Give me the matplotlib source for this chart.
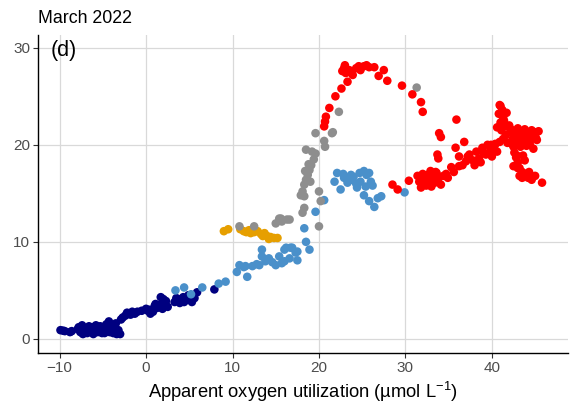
import matplotlib
matplotlib.use("Agg")
import matplotlib.pyplot as plt

plt.rcParams['font.family'] = ['Liberation Sans', 'DejaVu Sans']
plt.rcParams['mathtext.fontset'] = 'custom'
plt.rcParams['mathtext.rm'] = 'Liberation Sans'
plt.rcParams['mathtext.it'] = 'Liberation Sans:italic'

title_text = "March 2022"
panel_label = "(d)"
x_label = "Apparent oxygen utilization (\u00b5mol L$^{-1}$)"
x_ticks = [-10, 0, 10, 20, 30, 40]
y_ticks = [0, 10, 20, 30]

navy_x = [-9.9, -9.4, -8.8, -7.8, -7.6, -7.4, -7.2, -7.0, -6.8, -6.6, -6.4, -6.2, -6.0, -5.8, -5.6,
          -5.4, -5.2, -5.0, -4.8, -4.6, -4.4, -4.2, -4.0, -3.8, -3.6, -3.4, -3.2, -3.0, -7.3, -6.1,
          -5.1, -4.3, -3.5, -2.9, -2.4, -2.0, -1.6, -1.0, -0.5, 0.0, 0.4, 0.8, 1.0, 1.3, 1.6, 1.9,
          2.2, 2.5, 1.7, 2.0, 2.3, 3.3, 3.7, 4.0, 4.3, 4.6, 4.9, 5.3, 5.6, 5.9, 7.9, 0.5, -1.8,
          -7.9, -6.9, -6.3, -5.7, -5.3, -4.9, -4.1, -3.7, -2.7, -2.2, -1.3, 0.2, 1.1, 1.5, 2.1,
          3.5, 3.9, 4.4, 5.0, -9.6, -8.6]
navy_y = [0.9, 0.8, 0.7, 1.2, 0.7, 1.4, 0.9, 1.1, 0.6, 1.3, 0.8, 1.2, 0.9, 1.4, 0.7,
          1.1, 0.8, 1.2, 0.6, 1.5, 0.9, 0.7, 1.3, 0.6, 1.0, 0.5, 0.9, 0.5, 0.5, 0.5,
          0.6, 1.8, 1.6, 2.0, 2.4, 2.6, 2.8, 2.8, 2.9, 3.1, 3.0, 2.8, 3.4, 3.2, 3.5, 3.1,
          3.7, 3.3, 4.3, 4.1, 3.9, 3.8, 4.1, 3.9, 4.3, 4.0, 4.5, 3.8, 4.2, 4.8, 5.1, 2.6, 2.5,
          1.0, 1.0, 1.0, 1.1, 1.3, 1.0, 1.1, 1.2, 2.2, 2.7, 2.6, 2.9, 3.6, 3.3, 3.6,
          4.2, 3.7, 3.8, 4.4, 0.85, 0.8]

blue_x = [3.4, 4.4, 6.5, 8.4, 9.2, 10.5, 10.8, 11.3, 11.5, 11.7, 12.3, 13.1, 13.4, 13.4, 14.2,
          15.0, 15.4, 16.0, 16.0, 16.6, 16.7, 17.3, 17.5, 16.2, 16.9, 17.5, 18.5, 18.9, 18.3,
          19.6, 20.6, 21.8, 22.1, 22.5, 22.9, 23.7, 23.8, 24.7, 25.2, 25.8, 24.8, 24.4, 25.4,
          26.0, 25.2, 25.8, 26.4, 26.8, 24.3, 23.3, 27.2, 29.9, 12.8, 14.6, 5.2, 13.8, 15.7,
          22.8, 24.0, 25.5, 26.2]
blue_y = [5.0, 5.3, 5.3, 5.7, 5.9, 6.9, 7.6, 7.4, 7.5, 6.4, 7.5, 7.6, 8.5, 9.2, 8.3,
          7.6, 8.5, 9.2, 8.0, 8.3, 9.4, 8.9, 8.1, 9.4, 9.4, 9.0, 10.0, 9.2, 11.4,
          13.1, 14.3, 16.2, 17.1, 15.4, 16.6, 16.9, 16.4, 17.1, 17.3, 17.1, 16.2, 15.6, 15.7,
          16.2, 14.8, 14.2, 13.6, 14.5, 16.0, 16.1, 14.7, 15.1, 7.7, 7.9, 4.6, 8.0, 7.8,
          17.0, 16.7, 16.9, 15.8]

orange_x = [9.0, 9.5, 10.9, 11.3, 11.9, 12.5, 12.9, 13.3, 13.7, 14.0, 14.4, 14.8, 15.2, 14.2,
            13.5, 12.1, 11.6]
orange_y = [11.1, 11.3, 11.3, 11.1, 11.2, 11.0, 11.1, 10.8, 10.9, 10.6, 10.5, 10.4, 10.4, 10.3,
            10.6, 10.9, 11.0]

gray_x = [10.8, 12.5, 15.0, 15.4, 16.3, 15.6, 15.7, 16.6, 18.1, 18.3, 20.0, 17.9, 18.3, 18.1,
          20.0, 20.2, 18.3, 18.5, 18.7, 18.9, 19.1, 19.4, 19.6, 19.2, 18.5, 20.7, 20.6, 19.6,
          21.5, 21.6, 22.3, 31.3, 18.8, 19.0, 18.4]
gray_y = [11.6, 11.6, 11.9, 12.4, 12.3, 12.4, 12.1, 12.3, 13.0, 13.5, 11.6, 14.8, 14.7, 15.2,
          15.2, 14.2, 15.9, 16.4, 16.9, 17.4, 17.9, 18.5, 19.1, 19.3, 19.5, 19.8, 20.4, 21.2,
          21.2, 21.3, 23.4, 25.9, 18.0, 16.2, 17.3]

red_x = [20.6, 20.7, 20.8, 21.2, 21.9, 22.6, 23.3, 22.9, 23.1, 23.5, 23.9, 24.3, 24.8, 25.2,
         25.8, 26.4, 26.9, 27.5, 27.9, 29.6, 30.8, 31.8, 32.0, 23.0,
         28.5, 29.1, 30.4, 31.4, 31.6, 31.8, 32.0, 32.2, 32.4, 32.6, 32.8, 33.0, 33.2, 33.4,
         33.6, 33.8, 34.1, 34.4, 34.9, 35.6, 36.2, 37.0, 36.2, 37.4, 38.2, 38.9, 38.5, 39.3,
         39.5, 37.8, 38.0, 38.7, 39.8, 40.0, 40.3, 40.6, 40.9, 33.9, 34.1, 35.8, 36.8, 33.7,
         33.8, 35.9,
         40.9, 41.2, 40.8, 41.3, 41.0, 41.5, 41.1, 41.6, 41.3, 41.8, 42.0, 41.7,
         42.2, 42.6, 43.0, 43.4, 43.8, 44.2, 44.6, 45.0, 45.4, 42.4, 42.8, 43.2, 43.6, 44.0,
         44.4, 44.8, 45.2, 43.3, 44.0, 44.8, 42.5,
         42.6, 42.8, 43.0, 42.5, 43.2, 43.5, 43.9, 43.2, 44.2, 44.6, 45.0, 43.8, 43.6, 45.8,
         24.6, 25.5, 22.7, 32.9, 33.5, 34.7, 35.3, 36.6, 37.2, 39.0, 39.9, 40.4, 41.4, 42.1,
         42.3, 43.7, 44.4, 45.1, 42.9, 43.5, 41.0, 40.6, 44.3, 43.0]
red_y = [21.9, 22.4, 22.9, 23.8, 25.0, 25.8, 26.5, 27.9, 27.4, 27.7, 27.2, 27.9, 27.7, 28.1,
         28.0, 28.0, 27.1, 27.7, 26.6, 26.1, 25.2, 24.4, 23.4, 28.2,
         15.9, 15.4, 16.3, 16.8, 16.2, 15.6, 17.0, 16.4, 15.8, 16.9, 16.3, 15.7, 16.6, 16.1,
         17.1, 16.5, 15.9, 16.8, 16.6, 17.2, 17.8, 18.3, 18.8, 19.0, 19.3, 19.7, 18.6, 19.0,
         20.0, 18.4, 17.9, 18.2, 19.4, 18.8, 19.9, 19.3, 20.3, 21.2, 20.8, 19.7, 20.3, 19.0,
         18.6, 22.6,
         24.1, 23.6, 23.2, 22.8, 22.3, 21.9, 21.5, 21.0, 20.6, 20.2, 22.0, 23.3,
         21.6, 21.2, 21.7, 21.3, 21.6, 21.2, 21.5, 21.3, 21.4, 20.6, 20.2, 20.7, 20.3, 20.8,
         20.4, 20.9, 20.5, 19.8, 19.9, 19.6, 19.8,
         19.2, 18.7, 18.2, 17.8, 17.6, 17.2, 17.0, 16.8, 16.6, 16.4, 16.8, 18.4, 18.9, 16.1,
         28.1, 28.2, 27.6, 17.3, 17.2, 17.0, 17.7, 17.9, 18.8, 19.2, 20.0, 20.1, 22.5, 21.3,
         20.1, 20.0, 20.0, 20.7, 18.9, 16.6, 24.0, 21.8, 17.2, 17.6]

series = [
    (navy_x, navy_y, '#000080'),
    (blue_x, blue_y, '#4A90CA'),
    (orange_x, orange_y, '#E69F00'),
    (gray_x, gray_y, '#8E8E8E'),
    (red_x, red_y, '#FF0000'),
]

fig = plt.figure(figsize=(5.74, 4.09), dpi=100)
ax = fig.add_axes([0.0662, 0.137, 0.9233, 0.777])

for xs, ys, c in series:
    ax.scatter(xs, ys, s=38, color=c, edgecolors='none', zorder=3)

ax.set_xlim(-12.5, 48.8)
ax.set_ylim(-1.45, 31.3)
ax.set_xticks(x_ticks)
ax.set_yticks(y_ticks)
ax.grid(True, color='#D9D9D9', linewidth=0.9, zorder=0)
ax.set_axisbelow(True)
for side in ['top', 'right']:
    ax.spines[side].set_visible(False)
for side in ['left', 'bottom']:
    ax.spines[side].set_color('black')
    ax.spines[side].set_linewidth(1.0)
ax.tick_params(axis='both', colors='#333333', labelcolor='#4D4D4D', length=3.5,
               width=0.8, labelsize=11, pad=2)
ax.set_xlabel(x_label, fontsize=13.2, color='black', labelpad=4)
ax.text(-11.0, 29.7, panel_label, fontsize=15.5, ha='left', va='center', color='black')
ax.set_title(title_text, loc='left', fontsize=12.8, color='black', pad=9)

fig.savefig('out.png', dpi=100)
